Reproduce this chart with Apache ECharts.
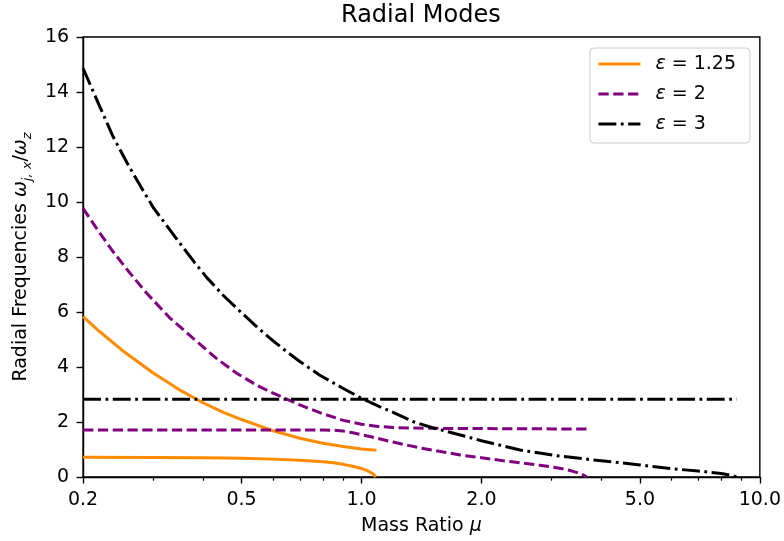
<!DOCTYPE html>
<html><head><meta charset="utf-8">
<script src="https://cdn.jsdelivr.net/npm/echarts@6/dist/echarts.min.js"></script>
<style>html,body{margin:0;padding:0;background:#fff}#chart{width:784px;height:541px}</style>
</head><body><div id="chart"></div>
<script>
const titleText = 'Radial Modes';
const legendNames = ['ε = 1.25', 'ε = 2', 'ε = 3'];
const xMajorTicks = [0.2, 0.5, 1, 2, 5, 10];
const xMinorTicks = [0.3, 0.4, 0.6, 0.7, 0.8, 0.9, 3, 4, 6, 7, 8, 9];
const yMin = 0, yMax = 16, yStep = 2;
const xMin = 0.2, xMax = 10;

// eps = 1.25
const orangeUpperX = [0.2, 0.22, 0.25, 0.3, 0.35, 0.4, 0.45, 0.5, 0.6, 0.7, 0.8, 0.9, 1.0, 1.09];
const orangeUpperY = [5.83, 5.29, 4.62, 3.78, 3.16, 2.70, 2.35, 2.09, 1.68, 1.41, 1.23, 1.11, 1.02, 0.97];
const orangeLowerX = [0.2, 0.3, 0.4, 0.5, 0.6, 0.7, 0.75, 0.8, 0.85, 0.9, 0.95, 1.0, 1.03, 1.05, 1.07, 1.08, 1.087];
const orangeLowerY = [0.72, 0.71, 0.70, 0.68, 0.65, 0.61, 0.585, 0.555, 0.515, 0.46, 0.39, 0.31, 0.24, 0.18, 0.11, 0.06, 0.0];

// eps = 2
const purpleUpperX = [0.2, 0.22, 0.238, 0.26, 0.289, 0.33, 0.378, 0.43, 0.486, 0.55, 0.6, 0.7, 0.8, 0.9, 1.0, 1.1, 1.2, 1.3, 1.5, 2.0, 3.0, 3.68];
const purpleUpperY = [9.77, 8.88, 8.19, 7.48, 6.68, 5.79, 5.04, 4.34, 3.77, 3.31, 3.05, 2.62, 2.30, 2.06, 1.92, 1.84, 1.80, 1.78, 1.77, 1.76, 1.75, 1.75];
const purpleLowerX = [0.2, 0.5, 0.8, 0.85, 0.9, 0.95, 1.0, 1.05, 1.1, 1.2, 1.4, 1.77, 2.0, 2.36, 2.8, 3.14, 3.3, 3.4, 3.5, 3.6, 3.68];
const purpleLowerY = [1.71, 1.71, 1.71, 1.70, 1.67, 1.61, 1.54, 1.47, 1.40, 1.27, 1.06, 0.80, 0.70, 0.56, 0.43, 0.32, 0.255, 0.205, 0.145, 0.075, 0.0];

// eps = 3
const blackUpperX = [0.2, 0.22, 0.238, 0.26, 0.28, 0.3, 0.325, 0.35, 0.38, 0.409, 0.45, 0.5, 0.55, 0.6, 0.65, 0.7, 0.786, 0.9, 1.0, 1.11, 1.2, 1.35, 1.5, 1.77, 2.0, 2.5, 3.14, 4.0, 5.0, 6.0, 7.0, 8.0, 8.5, 8.75];
const blackUpperY = [14.86, 13.49, 12.37, 11.33, 10.53, 9.8, 9.12, 8.5, 7.82, 7.25, 6.6, 5.97, 5.42, 4.95, 4.55, 4.2, 3.7, 3.22, 2.86, 2.56, 2.35, 2.01, 1.8, 1.53, 1.32, 0.98, 0.76, 0.59, 0.44, 0.30, 0.22, 0.13, 0.06, 0.0];
const blackFlatX = [0.2, 1.0, 8.75];
const blackFlatY = [2.83, 2.83, 2.83];

const FONT = 'DejaVu Sans';
const zip = (xs, ys) => xs.map((x, i) => [x, ys[i]]);
const LW = 3;
const styles = [
  { color: '#ff8c00', type: 'solid' },
  { color: '#800080', type: [10.3, 4.5] },
  { color: '#000000', type: [17.9, 4.5, 2.8, 4.5] }
];
function mk(idx, xs, ys) {
  return {
    type: 'line', name: legendNames[idx], data: zip(xs, ys),
    xAxisIndex: 0, yAxisIndex: 0,
    showSymbol: false, symbol: 'none', smooth: false,
    lineStyle: { color: styles[idx].color, width: LW, type: styles[idx].type, cap: 'butt', join: 'round' },
    itemStyle: { color: styles[idx].color },
    emphasis: { disabled: true }, animation: false, z: 3 + idx
  };
}

const chart = echarts.init(document.getElementById('chart'), null, { renderer: 'canvas' });
chart.setOption({
  animation: false,
  backgroundColor: '#ffffff',
  textStyle: { fontFamily: FONT },
  title: {
    text: titleText, left: 341, top: 4, padding: 0,
    textStyle: { fontFamily: FONT, fontSize: 24, fontWeight: 'normal', color: '#000' }
  },
  grid: { left: 83, right: 24, top: 37, bottom: 64, show: true, borderColor: '#000', borderWidth: 1.4, backgroundColor: 'transparent' },
  legend: {
    orient: 'vertical', right: 34, top: 48,
    data: legendNames,
    itemWidth: 42, itemHeight: 14, itemGap: 10,
    padding: [6, 14, 9, 7],
    backgroundColor: 'rgba(255,255,255,0.8)', borderColor: '#cccccc', borderWidth: 1, borderRadius: 4,
    itemStyle: { opacity: 0, borderWidth: 0 },
    lineStyle: { width: LW },
    formatter: n => '{i|ε} = ' + n.split('= ')[1],
    textStyle: { fontFamily: FONT, fontSize: 19, color: '#000', lineHeight: 20, padding: [0, 0, 0, 10],
      rich: { i: { fontFamily: FONT, fontStyle: 'italic', fontSize: 19, color: '#000' } } },
    selectedMode: false
  },
  xAxis: [
    {
      type: 'log', logBase: 10, min: xMin, max: xMax, position: 'bottom',
      name: 'Mass Ratio {i|μ}', nameLocation: 'middle', nameGap: 40,
      nameTextStyle: { fontFamily: FONT, fontSize: 19, color: '#000',
        rich: { i: { fontFamily: FONT, fontStyle: 'italic', fontSize: 19, color: '#000' } } },
      axisLine: { show: true, onZero: false, lineStyle: { color: '#000', width: 1.4 } },
      axisTick: { show: true, inside: false, length: 6.5, lineStyle: { color: '#000', width: 1.4 }, customValues: xMajorTicks },
      axisLabel: { show: true, margin: 14, fontFamily: FONT, fontSize: 19, color: '#000', customValues: xMajorTicks,
        formatter: v => Number(v).toFixed(1), showMinLabel: true, showMaxLabel: true, hideOverlap: false },
      splitLine: { show: false }, minorTick: { show: false }
    },
    {
      type: 'log', logBase: 10, min: xMin, max: xMax, position: 'bottom', gridIndex: 0,
      axisLine: { show: false },
      axisTick: { show: true, inside: false, length: 3.7, lineStyle: { color: '#000', width: 1.2 }, customValues: xMinorTicks },
      axisLabel: { show: false },
      splitLine: { show: false }
    }
  ],
  yAxis: {
    type: 'value', min: yMin, max: yMax, interval: yStep,
    name: 'Radial Frequencies {i|ω}{s|j, x}{u|/}{i|ω}{s|z}',
    nameLocation: 'middle', nameGap: 54, nameRotate: 90,
    nameTextStyle: { fontFamily: FONT, fontSize: 19, color: '#000', lineHeight: 26, verticalAlign: 'middle',
      rich: {
        i: { fontFamily: FONT, fontStyle: 'italic', fontSize: 19, color: '#000', lineHeight: 26 },
        u: { fontFamily: FONT, fontSize: 19, color: '#000', lineHeight: 26 },
        s: { fontFamily: FONT, fontStyle: 'italic', fontSize: 13, color: '#000', lineHeight: 16, verticalAlign: 'bottom' }
      } },
    axisLine: { show: true, onZero: false, lineStyle: { color: '#000', width: 1.4 } },
    axisTick: { show: true, inside: false, length: 6.5, lineStyle: { color: '#000', width: 1.4 } },
    axisLabel: { margin: 14, fontFamily: FONT, fontSize: 19, color: '#000' },
    splitLine: { show: false }
  },
  series: [
    mk(0, orangeUpperX, orangeUpperY),
    mk(0, orangeLowerX, orangeLowerY),
    mk(1, purpleUpperX, purpleUpperY),
    mk(1, purpleLowerX, purpleLowerY),
    mk(2, blackUpperX, blackUpperY),
    mk(2, blackFlatX, blackFlatY)
  ]
});
</script></body></html>
